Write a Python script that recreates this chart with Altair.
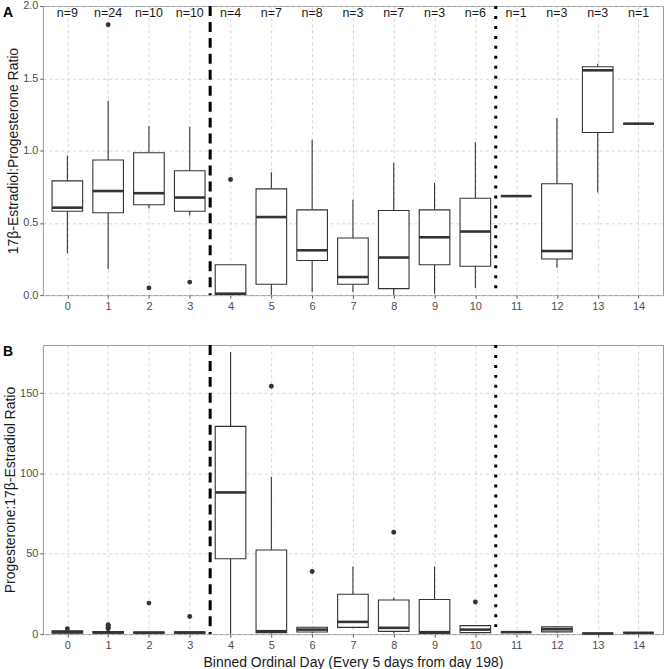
import altair as alt
import pandas as pd

# Bins of ordinal day (every 5 days from day 198)
bins = list(range(15))
n_counts = [9, 24, 10, 10, 4, 7, 8, 3, 7, 3, 6, 1, 3, 3, 1]

# Panel A: 17β-estradiol:progesterone ratio — box summaries per bin
a_lower  = [0.29, 0.18, 0.60, 0.55, 0.00, 0.00, 0.02, 0.02, 0.00, 0.01, 0.05, 0.685, 0.19, 0.71, 1.186]
a_q1     = [0.58, 0.57, 0.625, 0.58, 0.005, 0.075, 0.24, 0.075, 0.045, 0.21, 0.20, 0.685, 0.25, 1.125, 1.186]
a_median = [0.605, 0.72, 0.705, 0.675, 0.01, 0.54, 0.31, 0.125, 0.26, 0.40, 0.44, 0.685, 0.305, 1.555, 1.186]
a_q3     = [0.79, 0.935, 0.985, 0.86, 0.21, 0.735, 0.59, 0.395, 0.585, 0.59, 0.67, 0.685, 0.77, 1.58, 1.186]
a_upper  = [0.965, 1.345, 1.17, 1.165, 0.21, 0.85, 1.075, 0.66, 0.915, 0.775, 1.06, 0.685, 1.225, 1.60, 1.186]
a_outliers = [[], [1.87], [0.05], [0.09], [0.80], [], [], [], [], [], [], [], [], [], []]

# Panel B: progesterone:17β-estradiol ratio — box summaries per bin
b_lower  = [0.3, 0.2, 0.2, 0.2, 0.0, 0.3, 0.6, 3.6, 0.6, 0.1, 0.6, 1.2, 1.0, 0.3, 0.8]
b_q1     = [0.6, 0.5, 0.5, 0.5, 46.9, 0.9, 1.3, 4.2, 1.7, 0.4, 0.9, 1.2, 1.4, 0.3, 0.8]
b_median = [1.3, 1.0, 0.9, 0.9, 88.2, 1.8, 2.8, 7.6, 3.9, 1.2, 2.8, 1.2, 3.0, 0.4, 0.8]
b_q3     = [2.0, 1.6, 1.3, 1.4, 129.3, 52.4, 4.3, 24.8, 21.2, 21.5, 5.3, 1.2, 4.5, 0.5, 0.8]
b_upper  = [2.6, 2.4, 1.8, 1.9, 175.6, 97.9, 4.6, 42.1, 22.7, 42.1, 5.6, 1.2, 5.0, 0.5, 0.8]
b_outliers = [[3.4], [3.3, 3.9, 4.5, 5.2, 5.8], [19.3], [11.0], [], [154.3], [39.0],
              [], [63.4], [], [20.0], [], [], [], []]

# Phase boundaries
dashed_boundary = [3.5]
dotted_boundary = [10.5]

FONT = "Liberation Sans"
INK = "#333333"
PLOT_W, PLOT_H = 622, 290

x_scale = alt.Scale(domain=[-0.6, 14.6], nice=False, zero=False)


def panel(letter, lower, q1, med, q3, upper, outliers, y_domain, y_values,
          y_format, y_title, x_title, show_n):
    stats = pd.DataFrame({"bin": bins, "lower": lower, "q1": q1, "median": med,
                          "q3": q3, "upper": upper, "n": [f"n={c}" for c in n_counts]})
    out = pd.DataFrame([{"bin": b, "value": v} for b, vals in zip(bins, outliers) for v in vals])

    x_axis = alt.Axis(values=bins, format="d", title=x_title, labelFlush=False)
    y_scale = alt.Scale(domain=y_domain, nice=False, zero=False)
    y_axis = alt.Axis(values=y_values, format=y_format, title=y_title)

    def X(field):
        return alt.X(field, type="quantitative", scale=x_scale, axis=x_axis)

    def Y(field):
        return alt.Y(field, type="quantitative", scale=y_scale, axis=y_axis)

    base = alt.Chart(stats).transform_calculate(
        left="datum.bin - 0.375", right="datum.bin + 0.375")

    whisk_lo = base.mark_rule(color=INK, strokeWidth=1.1).encode(
        x=X("bin"), y=Y("lower"), y2="q1")
    whisk_hi = base.mark_rule(color=INK, strokeWidth=1.1).encode(
        x=X("bin"), y=Y("q3"), y2="upper")
    boxes = base.mark_rect(fill="white", stroke=INK, strokeWidth=1.1).encode(
        x=X("left"), x2="right", y=Y("q1"), y2="q3")
    medians = base.mark_rule(color=INK, strokeWidth=2.6).encode(
        x=X("left"), x2="right", y=Y("median"))
    points = alt.Chart(out).mark_circle(color=INK, opacity=1, size=24).encode(
        x=X("bin"), y=Y("value"))

    dashed = alt.Chart(pd.DataFrame({"boundary": dashed_boundary})).mark_rule(
        color="black", strokeWidth=3, strokeDash=[10, 6]).encode(x=X("boundary"))
    dotted = alt.Chart(pd.DataFrame({"boundary": dotted_boundary})).mark_rule(
        color="black", strokeWidth=3, strokeDash=[3, 7]).encode(x=X("boundary"))

    tag = alt.Chart(pd.DataFrame({"tag": [letter]})).mark_text(
        font=FONT, fontSize=14, fontWeight="bold", align="left", baseline="top",
        color="black").encode(x=alt.value(-40), y=alt.value(0), text="tag:N")

    layers = [whisk_lo, whisk_hi, boxes, medians, points, dashed, dotted]
    if show_n:
        layers.append(base.mark_text(font=FONT, fontSize=12.5, color="#1a1a1a",
                                     baseline="middle").encode(
            x=X("bin"), y=alt.YDatum(1.95), text="n:N"))
    layers.append(tag)
    return alt.layer(*layers).properties(width=PLOT_W, height=PLOT_H)


top = panel("A", a_lower, a_q1, a_median, a_q3, a_upper, a_outliers,
            [0, 2.0], [0, 0.5, 1.0, 1.5, 2.0], ".1f",
            "17β-Estradiol:Progesterone Ratio", None, True)
bottom = panel("B", b_lower, b_q1, b_median, b_q3, b_upper, b_outliers,
               [0, 180], [0, 50, 100, 150], "d",
               "Progesterone:17β-Estradiol Ratio",
               "Binned Ordinal Day (Every 5 days from day 198)", False)

chart = alt.vconcat(top, bottom, spacing=31).properties(
    padding={"left": 2, "top": -2, "right": 2, "bottom": 0},
    background="white",
).configure_view(
    stroke="#999999", strokeWidth=1
).configure_axis(
    labelFont=FONT, titleFont=FONT, labelFontSize=11, titleFontSize=14,
    labelColor="#4d4d4d", titleColor="#1a1a1a", titleFontWeight="normal",
    tickColor="#555555", tickSize=3, tickWidth=1, labelPadding=2,
    domain=False, grid=True, gridColor="#cccccc", gridDash=[3, 3], gridWidth=0.8,
).configure_axisY(
    titlePadding=2
).configure_axisX(
    titlePadding=5
)

chart.save("out.html", embed_options={"renderer": "svg", "actions": False})
